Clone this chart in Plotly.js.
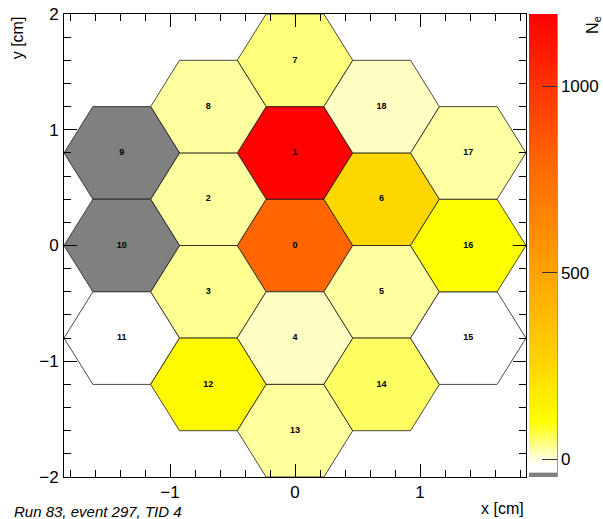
<!DOCTYPE html>
<html>
<head>
<meta charset="utf-8">
<script src="https://cdn.plot.ly/plotly-3.0.1.min.js"></script>
<style>
  html, body { margin: 0; padding: 0; background: #fff; }
  #plot { width: 603px; height: 519px; }
</style>
</head>
<body>
<div id="plot"></div>
<script>
// Hexagonal detector cells: channel number, cell centre (cm) and electron count N_e.
const cellId = [0, 1, 2, 3, 4, 5, 6, 7, 8, 9, 10, 11, 12, 13, 14, 15, 16, 17, 18];
const cellX  = [0, 0, -0.693, -0.693, 0, 0.693, 0.693, 0, -0.693, -1.386, -1.386, -1.386, -0.693, 0, 0.693, 1.386, 1.386, 1.386, 0.693];
const cellY  = [0, 0.8, 0.4, -0.4, -0.8, -0.4, 0.4, 1.6, 1.2, 0.8, 0, -0.8, -1.2, -1.6, -1.2, -0.8, 0, 0.8, 1.2];
const cellNe = [800, 1190, 28, 34, 12, 28, 250, 44, 28, -45, -45, -25, 120, 30, 55, -25, 100, 26, 12];

const zTicks = [0, 500, 1000];
const zMin = -48, zMax = 1193;

// Palette: grey underflow band, then white -> yellow -> orange -> red.
const stops = [
  [-48, [128, 128, 128]],
  [-36, [128, 128, 128]],
  [-35.9, [255, 255, 255]],
  [-15, [255, 255, 255]],
  [100, [255, 255, 0]],
  [250, [255, 215, 0]],
  [500, [255, 163, 0]],
  [800, [255, 102, 0]],
  [1193, [255, 0, 0]]
];
const rgb = c => `rgb(${c[0]},${c[1]},${c[2]})`;
const colorscale = stops.map(s => [(s[0] - zMin) / (zMax - zMin), rgb(s[1])]);

function colorAt(v) {
  if (v <= stops[0][0]) return rgb(stops[0][1]);
  for (let i = 1; i < stops.length; i++) {
    const [v1, c1] = stops[i];
    const [v0, c0] = stops[i - 1];
    if (v <= v1) {
      const t = v1 === v0 ? 1 : (v - v0) / (v1 - v0);
      return rgb(c0.map((c, k) => Math.round(c + t * (c1[k] - c))));
    }
  }
  return rgb(stops[stops.length - 1][1]);
}

// Flat-topped hexagon: apothem 0.4 cm.
const apothem = 0.4;
const R = apothem / Math.cos(Math.PI / 6);

const traces = cellId.map((id, i) => {
  const xs = [], ys = [];
  for (let k = 0; k <= 6; k++) {
    const a = (k % 6) * Math.PI / 3;
    xs.push(cellX[i] + R * Math.cos(a));
    ys.push(cellY[i] + R * Math.sin(a));
  }
  return {
    type: 'scatter', mode: 'lines', x: xs, y: ys,
    fill: 'toself', fillcolor: colorAt(cellNe[i]),
    line: { color: '#1a1a1a', width: 0.8 },
    hoverinfo: 'skip', showlegend: false
  };
});

// Channel numbers at the cell centres, carrying the colour bar.
traces.push({
  type: 'scatter', mode: 'markers+text',
  x: cellX, y: cellY, text: cellId.map(String),
  textposition: 'middle center',
  textfont: { family: 'Liberation Sans, Arial, sans-serif', size: 9, color: '#000', weight: 'bold' },
  marker: {
    size: 1, opacity: 0,
    color: cellNe, cmin: zMin, cmax: zMax, colorscale: colorscale,
    showscale: true,
    colorbar: {
      x: 1.0065, xanchor: 'left', xpad: 0,
      y: 0.5, yanchor: 'middle', ypad: 0, len: 1, lenmode: 'fraction',
      thickness: 28, thicknessmode: 'pixels',
      outlinewidth: 0,
      tickmode: 'array', tickvals: zTicks, ticktext: zTicks.map(String),
      ticks: 'inside', ticklen: 15, tickcolor: '#333', tickwidth: 1,
      tickfont: { family: 'Liberation Sans, Arial, sans-serif', size: 17, color: '#000' }
    }
  },
  hoverinfo: 'skip', showlegend: false
});

const axisFont = { family: 'Liberation Sans, Arial, sans-serif', size: 17, color: '#000' };
const commonAxis = {
  showgrid: false, zeroline: false,
  showline: true, linecolor: '#000', linewidth: 1, mirror: 'allticks',
  ticks: 'inside', ticklen: 13, tickcolor: '#000', tickwidth: 1,
  dtick: 1, tick0: 0,
  tickfont: axisFont,
  minor: { dtick: 0.2, tick0: 0, ticks: 'inside', ticklen: 7, tickcolor: '#000', tickwidth: 1 }
};

const layout = {
  width: 603, height: 519,
  margin: { l: 64, r: 77, t: 14, b: 42, autoexpand: false },
  paper_bgcolor: '#fff', plot_bgcolor: '#fff',
  xaxis: Object.assign({}, commonAxis, { range: [-1.848, 1.848], ticklabelstandoff: 0 }),
  yaxis: Object.assign({}, commonAxis, { range: [-2, 2], ticklabelstandoff: 1 }),
  shapes: [
    { type: 'line', xref: 'paper', yref: 'paper', x0: 1.0671, x1: 1.0671, y0: 0, y1: 1,
      line: { color: '#333', width: 1 } }
  ],
  annotations: [
    { xref: 'paper', yref: 'paper', x: 1, y: -0.045, xanchor: 'right', yanchor: 'top',
      text: 'x [cm]', showarrow: false, font: { family: 'Liberation Sans, Arial, sans-serif', size: 16, color: '#000' } },
    { xref: 'paper', yref: 'paper', x: -0.1, y: 1, xanchor: 'center', yanchor: 'top', textangle: -90,
      text: 'y [cm]', showarrow: false, font: { family: 'Liberation Sans, Arial, sans-serif', size: 16, color: '#000' } },
    { xref: 'paper', yref: 'paper', x: 1.145, y: 1, xanchor: 'center', yanchor: 'top', textangle: -90,
      text: 'N<sub>e</sub>', showarrow: false, font: { family: 'Liberation Sans, Arial, sans-serif', size: 16, color: '#000' } },
    { xref: 'paper', yref: 'paper', x: -0.112, y: -0.052, xanchor: 'left', yanchor: 'top',
      text: '<i>Run 83, event 297, TID 4</i>', showarrow: false,
      font: { family: 'Liberation Sans, Arial, sans-serif', size: 15, color: '#000' } }
  ]
};

Plotly.newPlot('plot', traces, layout, { staticPlot: true, displayModeBar: false });
</script>
</body>
</html>
